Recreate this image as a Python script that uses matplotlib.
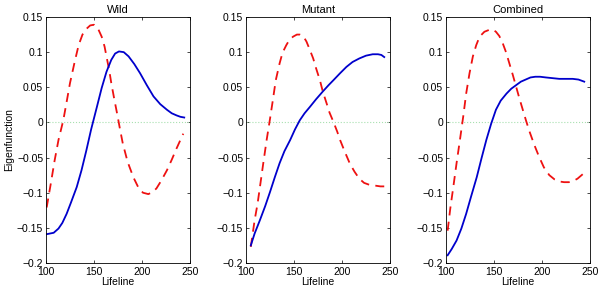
import matplotlib
matplotlib.use("Agg")
import matplotlib.pyplot as plt

titles = ["Wild", "Mutant", "Combined"]

wild_x_solid = [100.7, 108, 113, 117, 121.5, 126, 132, 137, 142, 147, 153, 158, 163, 168, 172, 176, 181, 186, 192, 198, 205, 212, 219, 226, 231, 236, 240, 244]
wild_y_solid = [-0.159, -0.157, -0.151, -0.143, -0.13, -0.114, -0.092, -0.068, -0.04, -0.01, 0.022, 0.049, 0.072, 0.089, 0.098, 0.101, 0.1, 0.094, 0.083, 0.07, 0.053, 0.037, 0.026, 0.018, 0.013, 0.01, 0.008, 0.007]
wild_x_dash = [100.7, 105, 109, 113, 118, 122, 125, 130, 134, 138, 142, 146, 150, 154, 158, 161, 163, 166, 168, 171, 174, 177, 180, 185, 191, 196, 201, 206.6, 211, 215, 220, 226, 231, 236, 243]
wild_y_dash = [-0.121, -0.087, -0.054, -0.025, 0.003, 0.033, 0.056, 0.087, 0.11, 0.125, 0.133, 0.138, 0.139, 0.134, 0.122, 0.108, 0.094, 0.073, 0.056, 0.034, 0.013, -0.009, -0.03, -0.056, -0.078, -0.092, -0.1, -0.102, -0.099, -0.094, -0.083, -0.068, -0.053, -0.037, -0.016]

mut_x_solid = [105, 109, 114.5, 120, 125, 130, 135, 140, 146, 151, 156, 161, 166.5, 173, 180, 186, 191, 198, 204.6, 211, 218, 225, 232, 237.5, 241, 244]
mut_y_solid = [-0.175, -0.158, -0.139, -0.119, -0.099, -0.078, -0.058, -0.041, -0.025, -0.01, 0.003, 0.013, 0.022, 0.033, 0.044, 0.053, 0.06, 0.07, 0.079, 0.086, 0.091, 0.095, 0.097, 0.097, 0.096, 0.093]
mut_x_dash = [105, 107, 109, 112, 114.5, 118, 121.5, 125, 128, 131, 135, 138, 142, 145, 149, 153, 156, 160, 163, 166, 170, 173, 177, 180, 184, 187, 191, 195, 198, 203, 208, 213, 218, 223, 229, 235, 240, 244]
mut_y_dash = [-0.177, -0.158, -0.139, -0.116, -0.092, -0.058, -0.025, 0.005, 0.032, 0.06, 0.084, 0.099, 0.11, 0.117, 0.122, 0.125, 0.125, 0.122, 0.115, 0.105, 0.091, 0.077, 0.06, 0.044, 0.027, 0.014, 0.001, -0.013, -0.025, -0.042, -0.058, -0.07, -0.08, -0.086, -0.089, -0.09, -0.091, -0.091]

comb_x_solid = [101.7, 106, 111, 116, 121, 126, 132, 137, 142, 147, 152, 157, 163, 168, 173, 178, 183, 188, 193, 198, 204, 211, 218, 225, 232, 238, 244]
comb_y_solid = [-0.189, -0.18, -0.168, -0.151, -0.13, -0.106, -0.078, -0.051, -0.025, -0.002, 0.018, 0.031, 0.041, 0.048, 0.053, 0.058, 0.061, 0.064, 0.065, 0.065, 0.064, 0.063, 0.062, 0.062, 0.062, 0.061, 0.058]
comb_x_dash = [101.7, 104.5, 107.6, 111, 114.5, 118, 121, 124.5, 128, 131.5, 135, 140, 145.5, 149, 152, 155.5, 159, 162.5, 166, 169.5, 173, 176.5, 180, 183.5, 187, 192, 197, 202, 207.6, 213, 218, 223, 228, 233, 237, 243]
comb_y_dash = [-0.154, -0.122, -0.092, -0.058, -0.025, 0.009, 0.041, 0.07, 0.094, 0.11, 0.122, 0.129, 0.132, 0.132, 0.129, 0.123, 0.113, 0.1, 0.084, 0.068, 0.051, 0.034, 0.018, 0.002, -0.013, -0.032, -0.049, -0.064, -0.075, -0.081, -0.084, -0.085, -0.085, -0.083, -0.08, -0.073]

solid_x = [wild_x_solid, mut_x_solid, comb_x_solid]
solid_y = [wild_y_solid, mut_y_solid, comb_y_solid]
dash_x = [wild_x_dash, mut_x_dash, comb_x_dash]
dash_y = [wild_y_dash, mut_y_dash, comb_y_dash]

plt.rcParams['font.family'] = ['Liberation Sans', 'DejaVu Sans']
plt.rcParams['font.size'] = 7.5

fig = plt.figure(figsize=(6, 2.9), dpi=100)

lefts = [46, 246, 446]
for i in range(3):
    ax = fig.add_axes([lefts[i] / 600, 27 / 290, 144 / 600, 246 / 290])
    ax.axhline(0, color='#a8e0b0', linestyle=':', linewidth=0.8)
    ax.plot(dash_x[i], dash_y[i], color='#ee1111', linestyle=(0, (5, 3.5)), linewidth=1.3)
    ax.plot(solid_x[i], solid_y[i], color='#0000cc', linewidth=1.3)
    ax.set_xlim(100, 250)
    ax.set_ylim(-0.2, 0.15)
    ax.set_xticks([100, 150, 200, 250])
    ax.set_yticks([-0.2, -0.15, -0.1, -0.05, 0, 0.05, 0.1, 0.15])
    ax.set_yticklabels(['\u22120.2', '\u22120.15', '\u22120.1', '\u22120.05', '0', '0.05', '0.1', '0.15'])
    ax.tick_params(direction='in', length=2.5, width=0.5, pad=2, top=True, right=True)
    ax.tick_params(axis='x', pad=3)
    for s in ax.spines.values():
        s.set_linewidth(0.6)
    ax.set_title(titles[i], fontsize=8, pad=3)
    ax.set_xlabel("Lifeline", labelpad=0)
    if i == 0:
        ax.set_ylabel("Eigenfunction", labelpad=2)

fig.savefig("out.png", dpi=100)
